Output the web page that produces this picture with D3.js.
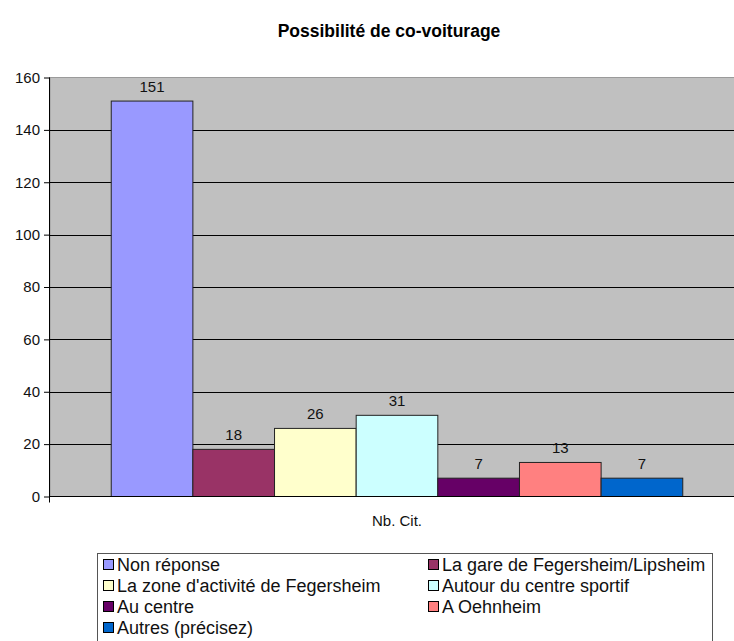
<!DOCTYPE html>
<html>
<head>
<meta charset="utf-8">
<script src="https://cdnjs.cloudflare.com/ajax/libs/d3/7.8.5/d3.min.js"></script>
<style>
  body { margin: 0; background: #fff; }
  svg { display: block; font-family: "Liberation Sans", Arial, sans-serif; }
</style>
</head>
<body>
<script>
  // data
  const categories = [
    "Non réponse",
    "La gare de Fegersheim/Lipsheim",
    "La zone d'activité de Fegersheim",
    "Autour du centre sportif",
    "Au centre",
    "A Oehnheim",
    "Autres (précisez)"
  ];
  const values = [151, 18, 26, 31, 7, 13, 7];
  const colors = ["#9999FF", "#993366", "#FFFFCC", "#CCFFFF", "#660066", "#FF8080", "#0066CC"];
  const groupLabel = "Nb. Cit.";
  const yTicks = [0, 20, 40, 60, 80, 100, 120, 140, 160];

  const w = 734, h = 641;
  const plotL = 50, plotR = 744, plotT = 77.5, plotB = 496.5;

  const svg = d3.select("body").append("svg")
    .attr("width", w)
    .attr("height", h);

  svg.append("text")
    .attr("x", 389)
    .attr("y", 37)
    .attr("text-anchor", "middle")
    .style("font-weight", "bold")
    .style("font-size", "17.5px")
    .text("Possibilité de co-voiturage");

  const yScale = d3.scaleLinear().domain([0, 160]).range([plotB, plotT]);

  // one category group, gap width 150% like excel
  const barW = (plotR - plotL) / (categories.length + 1.5);
  const xScale = d3.scaleBand()
    .domain(categories)
    .range([plotL + barW * 0.75, plotR - barW * 0.75])
    .padding(0);

  svg.append("rect")
    .attr("x", plotL)
    .attr("y", plotT)
    .attr("width", plotR - plotL)
    .attr("height", plotB - plotT)
    .attr("fill", "#C0C0C0")
    .attr("stroke", "#9a9a9a");

  // gridlines
  svg.append("g")
    .selectAll("line")
    .data(yTicks.slice(1, -1))
    .enter()
    .append("line")
    .attr("x1", plotL)
    .attr("x2", plotR)
    .attr("y1", d => Math.round(yScale(d)) + 0.5)
    .attr("y2", d => Math.round(yScale(d)) + 0.5)
    .attr("stroke", "#000");

  svg.selectAll(".bar")
    .data(values)
    .enter()
    .append("rect")
    .attr("class", "bar")
    .attr("x", (d, i) => xScale(categories[i]))
    .attr("y", d => yScale(d))
    .attr("width", xScale.bandwidth())
    .attr("height", d => plotB - yScale(d))
    .attr("fill", (d, i) => colors[i])
    .attr("stroke", "#222")
    .attr("stroke-width", 1);

  svg.selectAll(".val")
    .data(values)
    .enter()
    .append("text")
    .attr("class", "val")
    .attr("x", (d, i) => xScale(categories[i]) + xScale.bandwidth() / 2)
    .attr("y", d => yScale(d) - 9)
    .attr("text-anchor", "middle")
    .style("font-size", "15px")
    .attr("fill", "#111")
    .text(d => d);

  const yAxis = d3.axisLeft(yScale)
    .tickValues(yTicks)
    .tickSize(6)
    .tickPadding(4);

  const gy = svg.append("g")
    .attr("transform", "translate(" + plotL + ",0)")
    .call(yAxis);
  gy.select(".domain").attr("stroke", "#000").attr("d", "M-0.5," + plotT + "V" + (plotB + 6));
  gy.selectAll(".tick line").attr("stroke", "#000");
  gy.selectAll(".tick text")
    .style("font-size", "15px")
    .style("font-family", "'Liberation Sans', Arial, sans-serif")
    .attr("fill", "#111");

  // x axis line
  svg.append("line")
    .attr("x1", plotL)
    .attr("x2", plotR)
    .attr("y1", plotB)
    .attr("y2", plotB)
    .attr("stroke", "#000");

  svg.append("text")
    .attr("x", (plotL + plotR) / 2)
    .attr("y", 526)
    .attr("text-anchor", "middle")
    .style("font-size", "15px")
    .attr("fill", "#111")
    .text(groupLabel);

  // legend
  const lg = svg.append("g").attr("transform", "translate(97,553)");
  lg.append("rect")
    .attr("x", 0.5)
    .attr("y", 0.5)
    .attr("width", 615)
    .attr("height", 100)
    .attr("fill", "#fff")
    .attr("stroke", "#555");

  const item = lg.selectAll(".item")
    .data(categories)
    .enter()
    .append("g")
    .attr("class", "item")
    .attr("transform", (d, i) => "translate(" + (i % 2 ? 331 : 6) + "," + (6 + Math.floor(i / 2) * 21) + ")");

  item.append("rect")
    .attr("x", 0.5)
    .attr("y", 0.5)
    .attr("width", 10)
    .attr("height", 10)
    .attr("fill", (d, i) => colors[i])
    .attr("stroke", "#000");

  item.append("text")
    .attr("x", 14)
    .attr("y", 12)
    .style("font-size", "18px")
    .attr("fill", "#111")
    .text(d => d);
</script>
</body>
</html>
